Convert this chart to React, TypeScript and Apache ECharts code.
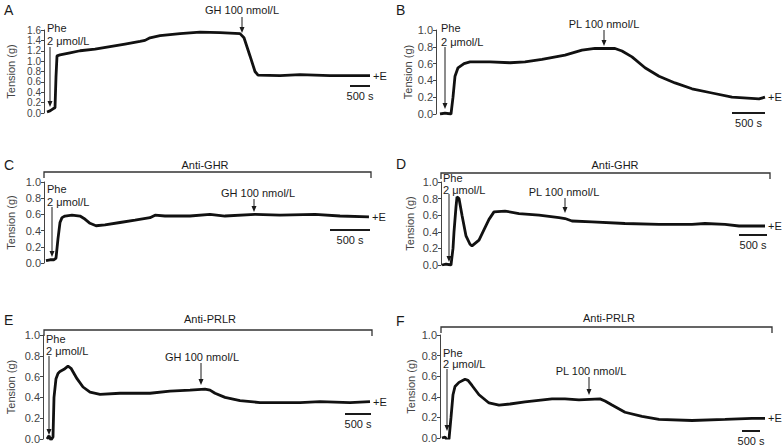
import React, { useEffect, useRef } from "react";
import * as echarts from "echarts";

// Time (s) and tension (g)
const aTime = [75, 150, 225, 275, 300, 325, 400, 650, 900, 1275, 1650, 2025, 2400, 2525, 2650, 2900, 3400, 3900, 4400, 4900, 5000, 5150, 5275, 5350, 5900, 6400, 7150, 7650, 8150];
const aTension = [0.02, 0.04, 0.08, 0.1, 0.7, 1.1, 1.12, 1.16, 1.2, 1.23, 1.28, 1.33, 1.38, 1.4, 1.45, 1.49, 1.53, 1.56, 1.55, 1.53, 1.45, 1.1, 0.8, 0.73, 0.72, 0.74, 0.72, 0.72, 0.72];

const bTime = [60, 135, 225, 255, 285, 330, 420, 510, 810, 1110, 1335, 1590, 1935, 2190, 2385, 2595, 2685, 2790, 2940, 3135, 3345, 3585, 3840, 4140, 4440, 4845, 4935];
const bTension = [0.0, 0.01, 0.0, 0.2, 0.45, 0.55, 0.6, 0.62, 0.62, 0.61, 0.62, 0.65, 0.7, 0.76, 0.78, 0.78, 0.78, 0.75, 0.68, 0.55, 0.45, 0.37, 0.3, 0.25, 0.2, 0.18, 0.2];

const cTime = [25, 75, 125, 150, 175, 200, 225, 262, 350, 450, 500, 575, 650, 762, 950, 1138, 1325, 1388, 1512, 1825, 2075, 2262, 2638, 2950, 3388, 3700, 4062];
const cTension = [0.03, 0.04, 0.04, 0.06, 0.3, 0.5, 0.56, 0.58, 0.59, 0.58, 0.55, 0.49, 0.46, 0.47, 0.5, 0.53, 0.56, 0.59, 0.58, 0.58, 0.6, 0.58, 0.6, 0.59, 0.6, 0.58, 0.57];

const dTime = [18, 90, 180, 216, 234, 270, 288, 324, 378, 450, 522, 558, 684, 792, 864, 954, 1152, 1404, 1764, 2124, 2232, 2358, 2718, 3312, 3924, 4518, 4752, 5112, 5364, 5832];
const dTension = [0.0, 0.01, 0.0, 0.2, 0.4, 0.7, 0.82, 0.8, 0.6, 0.35, 0.25, 0.23, 0.3, 0.45, 0.55, 0.64, 0.65, 0.62, 0.6, 0.57, 0.56, 0.53, 0.52, 0.5, 0.49, 0.49, 0.5, 0.49, 0.47, 0.47];

const eTime = [76, 114, 152, 190, 209, 247, 285, 323, 399, 475, 532, 589, 646, 760, 893, 1083, 1463, 2033, 2413, 2793, 3078, 3173, 3268, 3458, 3743, 4123, 4883, 5263, 5833, 6213];
const eTension = [0.0, 0.03, -0.01, 0.02, 0.4, 0.58, 0.63, 0.65, 0.67, 0.7, 0.68, 0.63, 0.58, 0.5, 0.45, 0.43, 0.44, 0.44, 0.46, 0.47, 0.48, 0.47, 0.44, 0.4, 0.37, 0.35, 0.35, 0.36, 0.35, 0.36];

const fTime = [40, 100, 140, 180, 220, 260, 300, 380, 500, 560, 640, 780, 980, 1180, 1400, 1700, 2240, 2500, 2780, 3200, 3300, 3440, 3700, 4040, 4380, 5040, 5700, 6240, 6500];
const fTension = [0.0, 0.01, -0.02, -0.01, 0.2, 0.42, 0.5, 0.54, 0.57, 0.56, 0.51, 0.42, 0.34, 0.32, 0.33, 0.35, 0.38, 0.38, 0.37, 0.38, 0.36, 0.32, 0.25, 0.21, 0.18, 0.17, 0.18, 0.19, 0.19];

const panelLetters = ["A", "B", "C", "D", "E", "F"];
const yMaxes = [1.6, 1.0, 1.0, 1.0, 1.0, 1.0];
const yAxisName = "Tension (g)";
const endText = "+E";

const FONT = "'Liberation Sans', Arial, sans-serif";
const INK = "#1a1a1a";
const AXIS = "#444";

// layout per panel (pixels) and seconds per pixel of x
const layout = [
  { left: 44, top: 30, width: 328, height: 83, spp: 25, nameGap: 28, fs: 10 },
  { left: 436, top: 30, width: 336, height: 84, spp: 15, nameGap: 22, fs: 11 },
  { left: 44, top: 182, width: 328, height: 81, spp: 12.5, nameGap: 28, fs: 11 },
  { left: 441, top: 182, width: 331, height: 83, spp: 18, nameGap: 26, fs: 11 },
  { left: 43, top: 335, width: 329, height: 104, spp: 19, nameGap: 27, fs: 11 },
  { left: 440, top: 335, width: 332, height: 103, spp: 20, nameGap: 24, fs: 11 },
];

const traces = [
  [aTime, aTension],
  [bTime, bTension],
  [cTime, cTension],
  [dTime, dTension],
  [eTime, eTension],
  [fTime, fTension],
];

function txt(x: number, y: number, text: string, align = "left", size = 11, weight = "normal") {
  return {
    type: "text",
    x,
    y,
    silent: true,
    style: { text, fill: INK, font: `${weight} ${size}px ${FONT}`, textAlign: align, textVerticalAlign: "middle" },
  };
}

function arrow(x: number, y1: number, y2: number) {
  return [
    { type: "line", silent: true, shape: { x1: x, y1, x2: x, y2: y2 - 4 }, style: { stroke: INK, lineWidth: 1 } },
    {
      type: "polygon",
      silent: true,
      shape: { points: [[x - 2.5, y2 - 6], [x + 2.5, y2 - 6], [x, y2]] },
      style: { fill: INK },
    },
  ];
}

function bracket(x1: number, x2: number, y: number) {
  return {
    type: "polyline",
    silent: true,
    shape: { points: [[x1, y + 6], [x1, y], [x2, y], [x2, y + 6]] },
    style: { stroke: "#333", lineWidth: 1.3, fill: null },
  };
}

function scaleBar(x1: number, x2: number, y: number, label: string) {
  return [
    { type: "line", silent: true, shape: { x1, y1: y, x2, y2: y }, style: { stroke: INK, lineWidth: 2 } },
    txt((x1 + x2) / 2, y + 10, label, "center"),
  ];
}

function buildGraphics() {
  const g: any[] = [];
  const letterPos = [[4, 10], [396, 10], [4, 165], [396, 164], [4, 320], [396, 321]];
  panelLetters.forEach((l, i) => g.push(txt(letterPos[i][0], letterPos[i][1], l, "left", 14)));

  // A
  g.push(txt(47, 28, "Phe"), txt(47, 41, "2 μmol/L"), ...arrow(50, 47, 107));
  g.push(txt(242, 10, "GH 100 nmol/L", "center"), ...arrow(242, 17, 33));
  g.push(...scaleBar(350, 370, 86, "500 s"));

  // B
  g.push(txt(441, 28, "Phe"), txt(441, 42, "2 μmol/L"), ...arrow(445, 47, 109));
  g.push(txt(604, 24, "PL 100 nmol/L", "center"), ...arrow(604, 30, 46));
  g.push(...scaleBar(732, 765, 113, "500 s"));

  // C
  g.push(bracket(44, 371, 172), txt(205, 165, "Anti-GHR", "center"));
  g.push(txt(47, 189, "Phe"), txt(47, 202, "2 μmol/L"), ...arrow(52, 207, 257));
  g.push(txt(258, 193, "GH 100 nmol/L", "center"), ...arrow(254, 199, 212));
  g.push(...scaleBar(330, 370, 230, "500 s"));

  // D
  g.push(bracket(441, 770, 173), txt(615, 165, "Anti-GHR", "center"));
  g.push(txt(443, 178, "Phe"), txt(443, 190, "2 μmol/L"), ...arrow(449, 194, 262));
  g.push(txt(564, 192, "PL 100 nmol/L", "center"), ...arrow(565, 198, 213));
  g.push(...scaleBar(739, 767, 235, "500 s"));

  // E
  g.push(bracket(44, 372, 330), txt(210, 319, "Anti-PRLR", "center"));
  g.push(txt(46, 339, "Phe"), txt(46, 351, "2 μmol/L"), ...arrow(49, 356, 435));
  g.push(txt(202, 357, "GH 100 nmol/L", "center"), ...arrow(201, 363, 385));
  g.push(...scaleBar(345, 371, 414, "500 s"));

  // F
  g.push(bracket(441, 772, 327), txt(609, 318, "Anti-PRLR", "center"));
  g.push(txt(443, 353, "Phe"), txt(443, 364, "2 μmol/L"), ...arrow(447, 369, 431));
  g.push(txt(591, 371, "PL 100 nmol/L", "center"), ...arrow(589, 377, 395));
  g.push(...scaleBar(742, 760, 431, "500 s"));
  return g;
}

export default function App() {
  const ref = useRef<HTMLDivElement>(null);
  useEffect(() => {
    if (!ref.current) return;
    const chart = echarts.init(ref.current, null, { renderer: "svg" });
    const grid = layout.map((l) => ({ left: l.left, top: l.top, width: l.width, height: l.height, containLabel: false }));
    const xAxis = layout.map((l, i) => ({
      type: "value",
      gridIndex: i,
      min: 0,
      max: l.width * l.spp,
      show: false,
    }));
    const yAxis = layout.map((l, i) => ({
      type: "value",
      gridIndex: i,
      min: 0,
      max: yMaxes[i],
      interval: 0.2,
      name: yAxisName,
      nameLocation: "middle",
      nameGap: l.nameGap,
      nameTextStyle: { fontFamily: FONT, fontSize: 11, color: AXIS },
      axisLine: { show: true, lineStyle: { color: AXIS, width: 1 } },
      axisTick: { show: true, length: 3, lineStyle: { color: AXIS } },
      axisLabel: {
        fontFamily: FONT,
        fontSize: l.fs,
        lineHeight: l.fs,
        color: AXIS,
        margin: 3,
        showMinLabel: true,
        showMaxLabel: true,
        hideOverlap: false,
        formatter: (v: number) => v.toFixed(1),
      },
      splitLine: { show: false },
    }));
    const series = traces.map(([t, v], i) => ({
      type: "line",
      xAxisIndex: i,
      yAxisIndex: i,
      data: t.map((x, k) => [x, v[k]]),
      showSymbol: false,
      symbol: "none",
      lineStyle: { color: "#111", width: 2.8 },
      endLabel: { show: true, formatter: endText, fontFamily: FONT, fontSize: 11, color: INK, distance: 3 },
      silent: true,
    }));
    chart.setOption({
      animation: false,
      backgroundColor: "#fff",
      grid,
      xAxis,
      yAxis,
      series,
      graphic: buildGraphics(),
    });
    return () => chart.dispose();
  }, []);
  return <div ref={ref} style={{ position: "fixed", left: 0, top: 0, width: 784, height: 447 }} />;
}
